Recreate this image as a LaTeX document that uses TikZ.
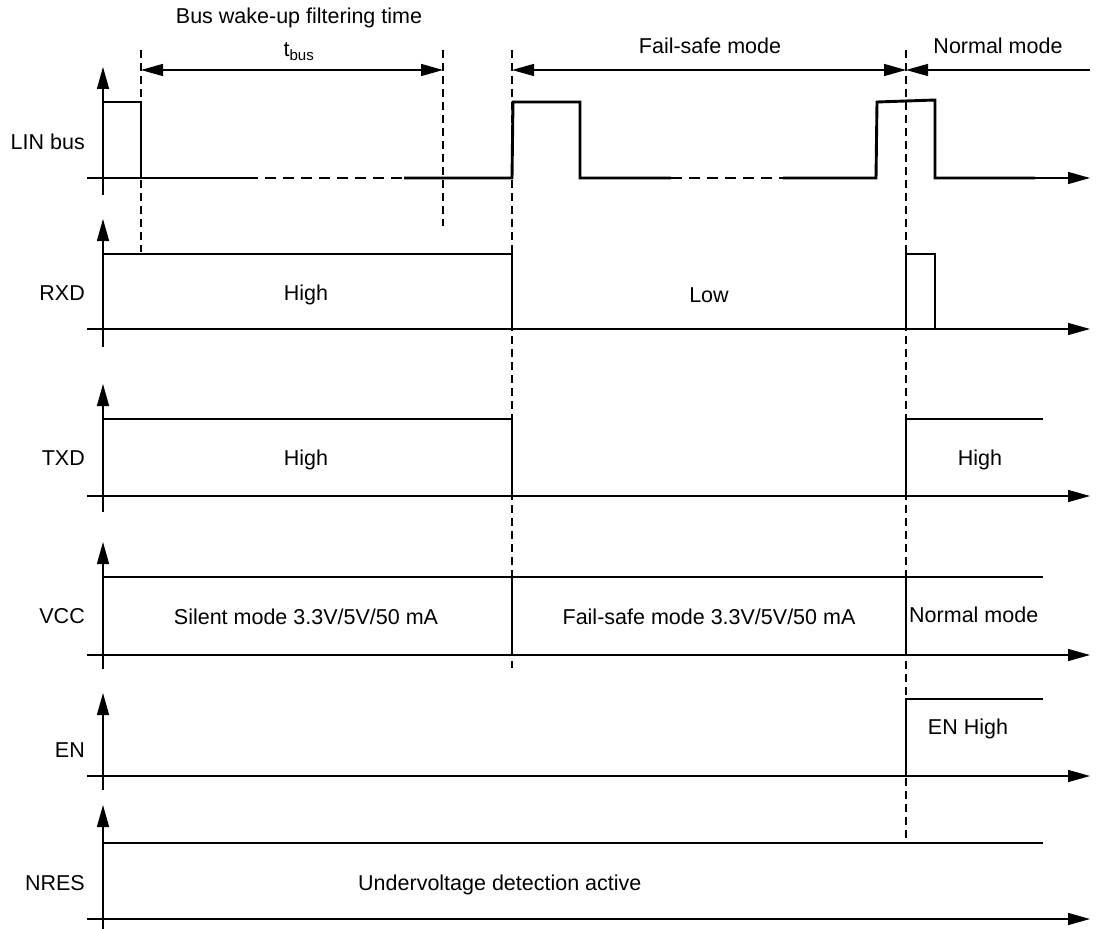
\documentclass[tikz,border=0pt]{standalone}
\usepackage{fontspec}
\setmainfont{Liberation Sans}
\usetikzlibrary{arrows.meta}
\newcommand{\sigfont}{\fontsize{21.5}{26}\selectfont}

\begin{document}
\begin{tikzpicture}[sig/.style={line width=2.9pt, line join=miter}, ax/.style={line width=1.4pt, -{Triangle[length=22pt,width=12pt]}}, guide/.style={line width=1.6pt, dash pattern=on 8pt off 5pt}, gap/.style={line width=2pt, dash pattern=on 11pt off 7pt}, dim/.style={line width=1.4pt}, lbl/.style={inner sep=0pt, font=\sigfont}]
\useasboundingbox (0pt,0pt) rectangle (1099pt,-928pt);
\coordinate (lin-b) at (103pt,-195pt); \coordinate (lin-t) at (103pt,-67pt); \coordinate (lin-l) at (87pt,-178pt); \coordinate (lin-m) at (141pt,-178pt); \coordinate (lin-n) at (1035pt,-178pt); \coordinate (lin-r) at (1090pt,-178pt);
\coordinate (rxd-b) at (103pt,-347pt); \coordinate (rxd-t) at (103pt,-219pt); \coordinate (rxd-l) at (87pt,-329pt); \coordinate (rxd-r) at (1090pt,-329pt);
\coordinate (txd-b) at (103pt,-512pt); \coordinate (txd-t) at (103pt,-384pt); \coordinate (txd-l) at (87pt,-496pt); \coordinate (txd-r) at (1090pt,-496pt);
\coordinate (vcc-b) at (103pt,-669pt); \coordinate (vcc-t) at (103pt,-542pt); \coordinate (vcc-l) at (87pt,-655pt); \coordinate (vcc-r) at (1090pt,-655pt);
\coordinate (en-b) at (103pt,-790pt); \coordinate (en-t) at (103pt,-693pt); \coordinate (en-l) at (87pt,-776pt); \coordinate (en-r) at (1090pt,-776pt);
\coordinate (nres-b) at (103pt,-930pt); \coordinate (nres-t) at (103pt,-805pt); \coordinate (nres-l) at (87pt,-919pt); \coordinate (nres-r) at (1090pt,-919pt);
\draw [ax] (lin-b) -- (lin-t);
\draw [dim] (lin-l) -- (lin-m);
\draw [ax] (lin-n) -- (lin-r);
\draw [ax] (rxd-b) -- (rxd-t);
\draw [ax] (rxd-l) -- (rxd-r);
\draw [ax] (txd-b) -- (txd-t);
\draw [ax] (txd-l) -- (txd-r);
\draw [ax] (vcc-b) -- (vcc-t);
\draw [ax] (vcc-l) -- (vcc-r);
\draw [ax] (en-b) -- (en-t);
\draw [ax] (en-l) -- (en-r);
\draw [ax] (nres-b) -- (nres-t);
\draw [ax] (nres-l) -- (nres-r);
\coordinate (g1-t) at (141pt,-50pt); \coordinate (g1-b) at (141pt,-252pt);
\coordinate (g2-t) at (443pt,-50pt); \coordinate (g2-b) at (443pt,-226pt);
\coordinate (g3-t) at (512pt,-50pt); \coordinate (g3-b) at (512pt,-668pt);
\coordinate (g4-t) at (906pt,-50pt); \coordinate (g4-b) at (906pt,-843pt);
\draw [guide] (g1-t) -- (g1-b);
\draw [guide] (g2-t) -- (g2-b);
\draw [guide] (g3-t) -- (g3-b);
\draw [guide] (g4-t) -- (g4-b);
\coordinate (d1-l) at (141pt,-70pt); \coordinate (d1-r) at (443pt,-70pt);
\coordinate (d2-l) at (512pt,-70pt); \coordinate (d2-r) at (906pt,-70pt);
\coordinate (d3-r) at (1090pt,-70pt);
\draw [dim, {Triangle[length=22pt,width=12pt]}-{Triangle[length=22pt,width=12pt]}] (d1-l) -- (d1-r);
\draw [dim, {Triangle[length=22pt,width=12pt]}-{Triangle[length=22pt,width=12pt]}] (d2-l) -- (d2-r);
\draw [dim, {Triangle[length=22pt,width=12pt]}-] (d2-r) -- (d3-r);
\draw [sig] (103pt,-102pt) -- (141pt,-102pt) -- (141pt,-178pt) -- (247pt,-178pt);
\draw [gap] (247pt,-178pt) -- (404pt,-178pt);
\draw [sig] (404pt,-178pt) -- (512pt,-178pt) -- (513pt,-102pt) -- (580pt,-102pt) -- (580pt,-178pt) -- (671pt,-178pt);
\draw [gap] (671pt,-178pt) -- (783pt,-178pt);
\draw [sig] (783pt,-178pt) -- (876pt,-178pt) -- (877pt,-102pt) -- (935pt,-100pt) -- (935pt,-178pt) -- (1035pt,-178pt);
\draw [sig] (103pt,-329pt) -- (103pt,-254pt) -- (512pt,-254pt) -- (512pt,-329pt) -- (906pt,-329pt) -- (906pt,-254pt) -- (935pt,-254pt) -- (935pt,-329pt) -- (1040pt,-329pt);
\draw [sig] (103pt,-329pt) -- (512pt,-329pt);
\draw [sig] (103pt,-419pt) -- (512pt,-419pt) -- (512pt,-496pt) -- (906pt,-496pt) -- (906pt,-419pt) -- (1043pt,-419pt);
\draw [sig] (103pt,-655pt) -- (103pt,-577pt) -- (1043pt,-577pt);
\draw [sig] (512pt,-577pt) -- (512pt,-655pt);
\draw [sig] (906pt,-577pt) -- (906pt,-655pt);
\draw [sig] (103pt,-655pt) -- (1040pt,-655pt);
\draw [sig] (103pt,-776pt) -- (906pt,-776pt) -- (906pt,-699pt) -- (1043pt,-699pt);
\draw [sig] (103pt,-919pt) -- (103pt,-843pt) -- (1043pt,-843pt);
\draw [sig] (103pt,-919pt) -- (1040pt,-919pt);
\node (busfilt) [lbl] at (299pt,-18pt) {Bus wake-up filtering time};
\node (tbus) [lbl] at (299pt,-52pt) {t\textsubscript{bus}};
\node (failsafe) [lbl] at (710pt,-46pt) {Fail-safe mode};
\node (normal) [lbl] at (998pt,-46pt) {Normal mode};
\node (linlbl) [lbl, anchor=east] at (85pt,-142pt) {LIN bus};
\node (rxdlbl) [lbl, anchor=east] at (85pt,-293pt) {RXD};
\node (txdlbl) [lbl, anchor=east] at (85pt,-458pt) {TXD};
\node (vcclbl) [lbl, anchor=east] at (85pt,-616pt) {VCC};
\node (enlbl) [lbl, anchor=east] at (85pt,-750pt) {EN};
\node (nreslbl) [lbl, anchor=east] at (85pt,-883pt) {NRES};
\node (rxdhigh) [lbl] at (306pt,-295pt) {High};
\node (rxdlow) [lbl] at (709pt,-295pt) {Low};
\node (txdhigh) [lbl] at (306pt,-460pt) {High};
\node (txdhigh2) [lbl] at (980pt,-460pt) {High};
\node (silent) [lbl] at (306pt,-617pt) {Silent mode 3.3V/5V/50 mA};
\node (fsvcc) [lbl] at (709pt,-617pt) {Fail-safe mode 3.3V/5V/50 mA};
\node (nmvcc) [lbl, anchor=west] at (909pt,-615pt) {Normal mode};
\node (enhigh) [lbl] at (968pt,-729pt) {EN High};
\node (uvdet) [lbl, anchor=west] at (358pt,-885pt) {Undervoltage detection active};
\end{tikzpicture}
\end{document}
